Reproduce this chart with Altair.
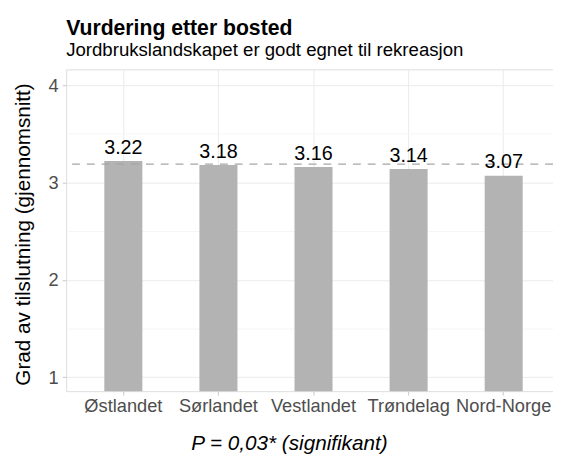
import altair as alt
import pandas as pd

regions = ["Østlandet", "Sørlandet", "Vestlandet", "Trøndelag", "Nord-Norge"]
means = [3.22, 3.18, 3.16, 3.14, 3.07]
overall_mean = 3.19
y_ticks = [1, 1.5, 2, 2.5, 3, 3.5, 4]

FONT = "Liberation Sans, Arial, Helvetica, sans-serif"

df = pd.DataFrame({"region": regions, "mean": means})
df["label"] = [f"{v:.2f}" for v in means]
ref = pd.DataFrame({"mean": [overall_mean]})

x_enc = alt.X(
    "region:N",
    sort=regions,
    scale=alt.Scale(paddingInner=0.6, paddingOuter=0.36, align=0.5576),
    axis=alt.Axis(
        title="P = 0,03* (signifikant)",
        titleFont=FONT,
        titleFontSize=21,
        titleFontStyle="italic",
        titleFontWeight="normal",
        titleColor="#000000",
        titleX=226,
        titleY=59,
        titleAlign="center",
        titleBaseline="alphabetic",
        labelFont=FONT,
        labelFontSize=18.5,
        labelColor="#4D4D4D",
        labelAngle=0,
        labelPadding=2,
        tickSize=4,
        tickColor="#C8C8C8",
        domain=False,
        grid=True,
        gridColor="#EBEBEB",
        bandPosition=0.5,
    ),
)

y_scale = alt.Scale(domain=[0.858, 4.162], nice=False, zero=False)
y_axis = alt.Axis(
    title="Grad av tilslutning (gjennomsnitt)",
    titleFont=FONT,
    titleFontSize=21,
    titleFontWeight="normal",
    titleColor="#000000",
    titleAngle=270,
    titleX=-37,
    titleY=167,
    titleAlign="center",
    titleBaseline="alphabetic",
    values=y_ticks,
    labelExpr="datum.value % 1 == 0 ? format(datum.value, 'd') : ''",
    labelFont=FONT,
    labelFontSize=18.5,
    labelColor="#4D4D4D",
    labelPadding=4,
    tickSize=4,
    tickColor={"condition": {"test": "datum.value % 1 == 0", "value": "#C8C8C8"}, "value": "rgba(0,0,0,0)"},
    domain=False,
    grid=True,
    gridColor={"condition": {"test": "datum.value % 1 == 0", "value": "#EBEBEB"}, "value": "#F5F5F5"},
)

bars = alt.Chart(df).mark_bar(color="#B3B3B3", clip=True).encode(
    x=x_enc,
    y=alt.Y("mean:Q", scale=y_scale, axis=y_axis),
)

hline = alt.Chart(ref).mark_rule(
    color="#A6A6A6", strokeDash=[8, 7], strokeWidth=1.3
).encode(y=alt.Y("mean:Q", scale=y_scale))

labels = alt.Chart(df).mark_text(
    baseline="alphabetic", dy=-7.5, fontSize=20, font=FONT, color="#000000"
).encode(
    x=alt.X("region:N", sort=regions),
    y=alt.Y("mean:Q", scale=y_scale),
    text="label:N",
)

chart = (
    alt.layer(bars, hline, labels)
    .properties(
        width=494,
        height=326.5,
        autosize=alt.AutoSizeParams(type="none"),
        padding={"left": 59, "top": 59, "right": 0, "bottom": 62},
        title=alt.TitleParams(
            text="Vurdering etter bosted",
            subtitle="Jordbrukslandskapet er godt egnet til rekreasjon",
            anchor="start",
            frame="group",
            font=FONT,
            fontSize=21.5,
            fontWeight="bold",
            color="#000000",
            subtitleFont=FONT,
            subtitleFontSize=18.9,
            subtitleColor="#000000",
            offset=10,
            subtitlePadding=1.5,
        ),
    )
    .configure_view(stroke="#D6D6D6", strokeWidth=1)
    .configure(background="white")
)

chart.save("out.html", embed_options={"renderer": "svg", "actions": False})
